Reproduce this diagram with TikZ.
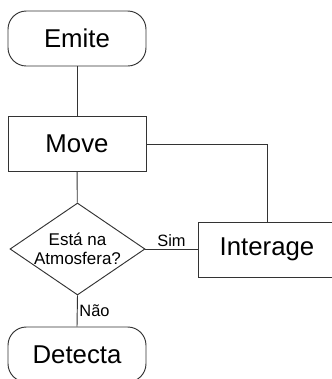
\documentclass[tikz,border=0pt]{standalone}
\usepackage{fontspec}
\setmainfont{Liberation Sans}
\usetikzlibrary{shapes.geometric}
\tikzset{
  term/.style={draw=black!80, line width=0.8pt, rounded corners=0.55cm, minimum width=4.14cm, minimum height=1.65cm, font=\fontsize{22}{24}\selectfont},
  proc/.style={draw=black!80, line width=0.8pt, minimum width=4.14cm, minimum height=1.65cm, font=\fontsize{22}{24}\selectfont},
  decision/.style={draw=black!80, line width=0.8pt, diamond, aspect=1.47, minimum width=4.05cm, minimum height=2.76cm, inner sep=-2pt, align=center, font=\fontsize{14.5}{16.5}\selectfont},
  link/.style={draw=black!80, line width=0.8pt},
  tag/.style={font=\fontsize{14}{16}\selectfont, inner sep=1.5pt}
}
\begin{document}
\begin{tikzpicture}[x=0.03cm, y=-0.03cm]
  \useasboundingbox (0,0) rectangle (332,379);
  \clip (0,0) rectangle (332,379);
  \node[term] (emite) at (77,38.5) {Emite};
  \node[proc] (move) at (77,144) {Move};
  \node[decision] (atmos) at (77.5,249) {Está na\\Atmosfera?};
  \node[proc] (interage) at (267,249.5) {Interage};
  \node[term] (detecta) at (77,354.5) {Detecta};
  \draw[link] (emite) -- (move);
  \draw[link] (move) -- (atmos);
  \draw[link] (move.east) -| (interage.north);
  \draw[link] (atmos.east) -- node[tag, above] {Sim} (atmos.east -| interage.west);
  \draw[link] (atmos.south) -- node[tag, right] {Não} (detecta.north);
\end{tikzpicture}
\end{document}
